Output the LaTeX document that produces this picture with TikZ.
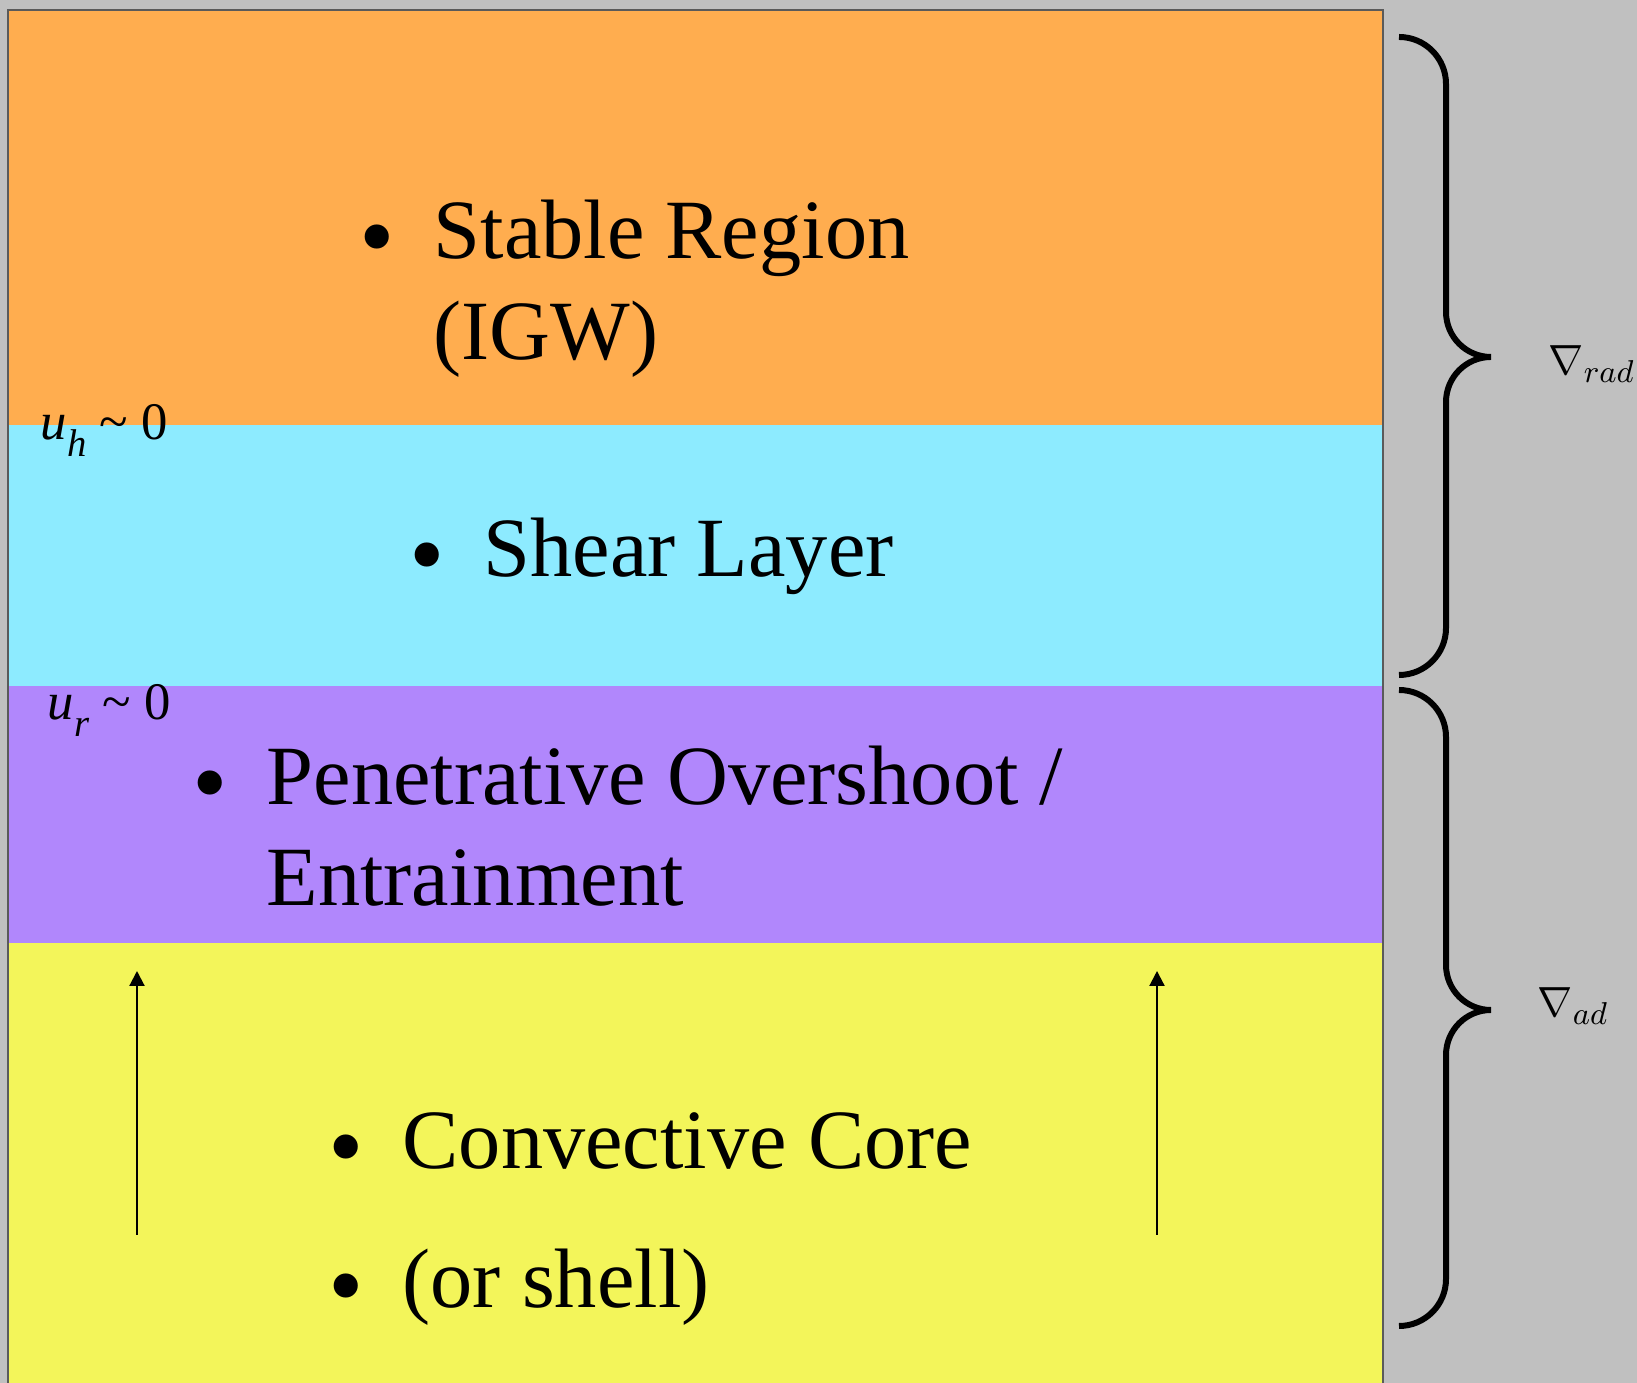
\documentclass[tikz,border=0pt]{standalone}
\usepackage{fontspec}
\setmainfont{Liberation Serif}
\usepackage{graphicx}
\usepackage{tikz}
\usetikzlibrary{arrows.meta,positioning}
\definecolor{zoneStable}{HTML}{FFAD4F}
\definecolor{zoneShear}{HTML}{8DEBFF}
\definecolor{zonePen}{HTML}{B187FC}
\definecolor{zoneCore}{HTML}{F3F55A}
\definecolor{zoneBack}{HTML}{C0C0C0}
\definecolor{zoneEdge}{HTML}{5A5A5A}
\newcommand{\itembul}{\llap{\raisebox{-0.14em}{\scalebox{1.2}{\textbullet}}\hspace{0.46em}}}

\begin{document}
\begin{tikzpicture}[
        label/.style={
            anchor=base west,
            inner sep=0pt,
            align=left,
            font=\fontsize{24}{28.8}\selectfont
        },
        speed/.style={
            anchor=base west,
            inner sep=0pt,
            font=\fontsize{15}{18}\selectfont
        },
        grad/.style={
            anchor=base west,
            inner sep=0pt,
            font=\fontsize{12.5}{14}\selectfont
        },
        flow/.style={
            -{Triangle[width=1.5mm,length=1.5mm]},
            line width=0.6pt
        },
        curly/.style={
            line width=1.7pt,
            line cap=butt
        }
    ]

    % page and layers
    \fill[zoneBack] (0,0) rectangle (16.37,13.83);
    \useasboundingbox (0,0) rectangle (16.37,13.83);
    \fill[zoneStable] (0.08,9.58) rectangle (13.83,13.73);
    \fill[zoneShear] (0.08,6.97) rectangle (13.83,9.58);
    \fill[zonePen] (0.08,4.40) rectangle (13.83,6.97);
    \fill[zoneCore] (0.08,0) rectangle (13.83,4.40);
    \draw[zoneEdge, line width=0.4pt] (0.08,0) -- (0.08,13.73) -- (13.83,13.73) -- (13.83,0);

    % zone texts (base = last line)
    \node[label] (stable) at (4.33,10.23) {\itembul Stable Region\\(IGW)};
    \node[label] (shear) at (4.83,8.06) {\itembul Shear Layer};
    \node[label] (overshoot) at (2.66,4.77) {\itembul Penetrative Overshoot /\\Entrainment};
    \node[label] (core) at (4.02,2.14) {\itembul Convective Core};
    \node[label] (shell) at (4.02,0.75) {\itembul (or shell)};

    % boundary velocities
    \node[speed] (uh) at (0.40,9.43) {\textit{u}\raisebox{-0.32em}{\fontsize{11}{12}\selectfont\textit{h}} \textasciitilde{} 0};
    \node[speed] (ur) at (0.47,6.63) {\textit{u}\raisebox{-0.32em}{\fontsize{11}{12}\selectfont\textit{r}} \textasciitilde{} 0};

    % convective flow
    \coordinate (leftlow) at (1.37,1.48);
    \coordinate (lefthigh) at (1.37,4.12);
    \coordinate (rightlow) at (11.57,1.48);
    \coordinate (righthigh) at (11.57,4.12);
    \draw[flow] (leftlow) -- (lefthigh);
    \draw[flow] (rightlow) -- (righthigh);

    % gradients
    \draw[curly] (13.99,13.46) arc[start angle=90, end angle=0, radius=0.47]
        -- (14.46,10.71) arc[start angle=180, end angle=270, radius=0.45]
        arc[start angle=90, end angle=180, radius=0.45]
        -- (14.46,7.55) arc[start angle=0, end angle=-90, radius=0.47];
    \draw[curly] (13.99,6.93) arc[start angle=90, end angle=0, radius=0.47]
        -- (14.46,4.18) arc[start angle=180, end angle=270, radius=0.45]
        arc[start angle=90, end angle=180, radius=0.45]
        -- (14.46,1.04) arc[start angle=0, end angle=-90, radius=0.47];
    \node[grad] (rad) at (15.48,10.08) {$\nabla_{rad}$};
    \node[grad] (ad) at (15.37,3.66) {$\nabla_{ad}$};

\end{tikzpicture}
\end{document}
